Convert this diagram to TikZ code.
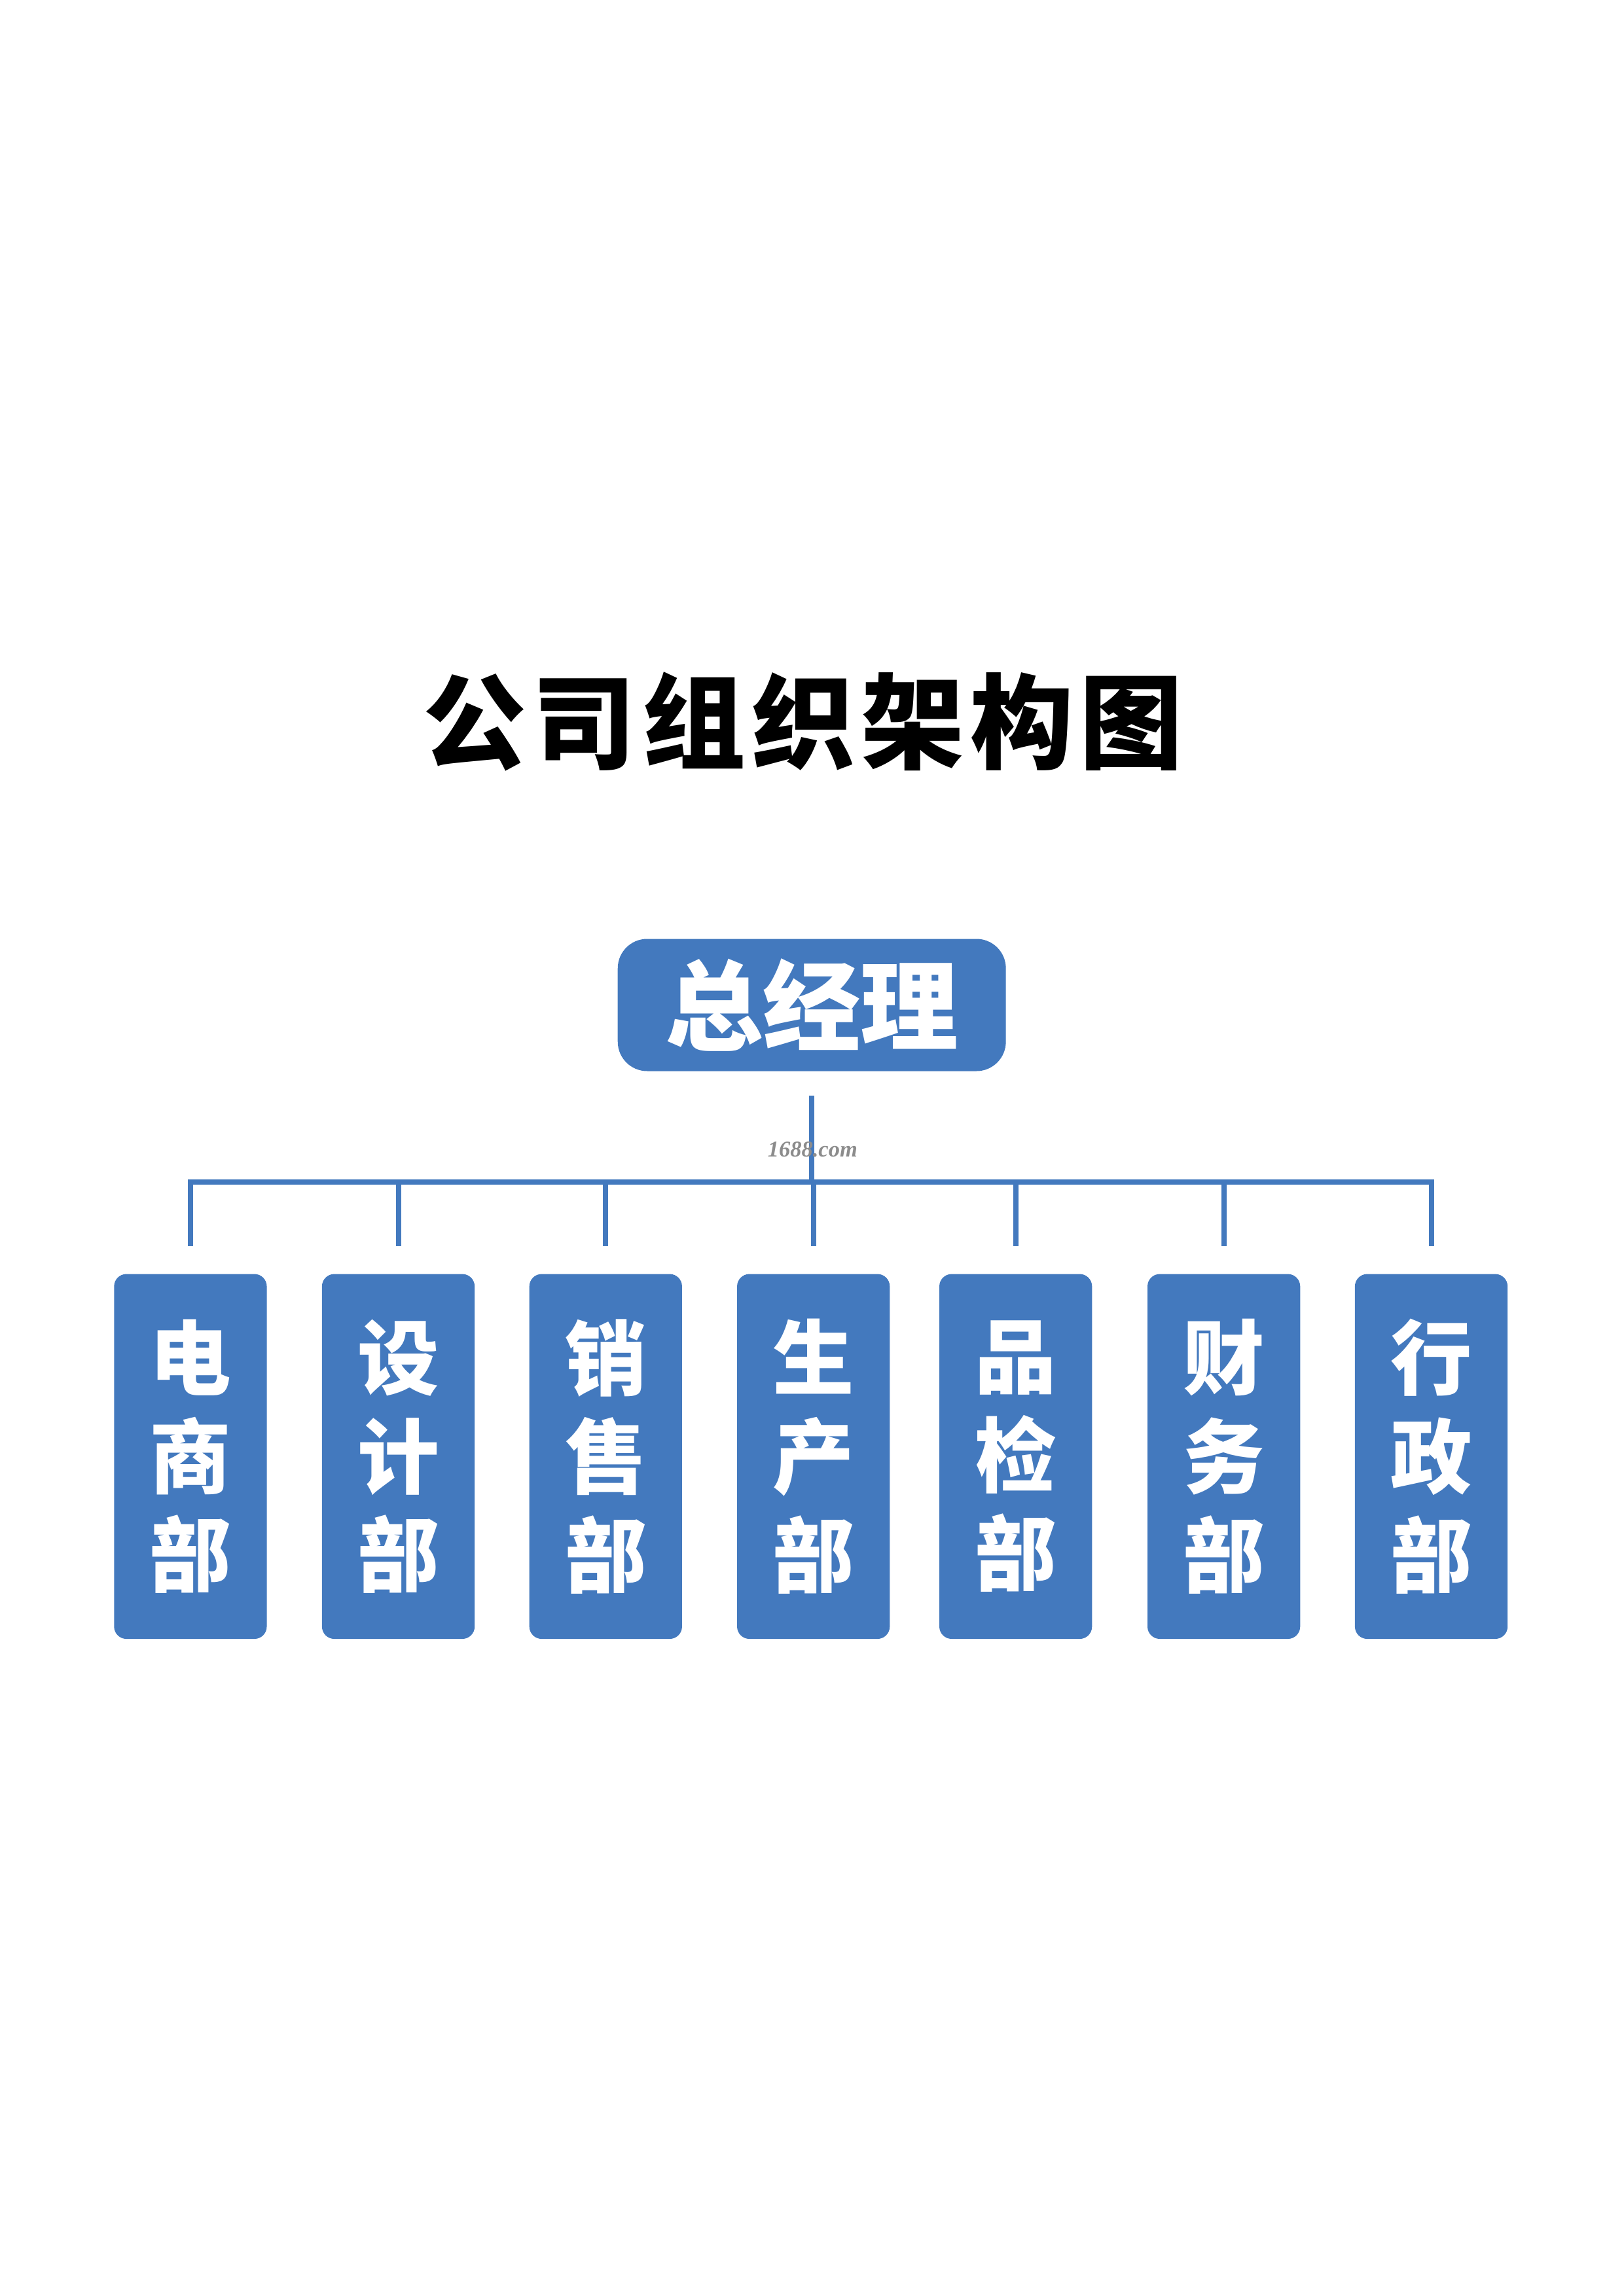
\documentclass[tikz,border=0pt]{standalone}
\usepackage{fontspec}
\newfontfamily\cjk{Noto Sans CJK SC}[BoldFont={Noto Sans CJK SC Black}]
\setmainfont{Liberation Serif}
\definecolor{orgblue}{RGB}{67,121,190}
\tikzset{
	link/.style={draw=orgblue, line width=1.93pt},
	gm/.style={rectangle, rounded corners=0.38cm, fill=orgblue, text=white, minimum width=5.02cm, minimum height=1.71cm, inner sep=0pt, font=\cjk\bfseries\fontsize{36}{36}\selectfont},
	dept/.style={rectangle, rounded corners=0.16cm, fill=orgblue, text=white, minimum width=1.975cm, minimum height=4.72cm, inner sep=0pt, align=center, font=\cjk\bfseries\fontsize{30}{36.3}\selectfont}
}
\begin{document}
\begin{tikzpicture}[line join=miter, line cap=butt]
				\useasboundingbox (0,0) rectangle (21,-29.7);
				\node (T) at (10.39,-9.33) {\cjk\bfseries\fontsize{38}{38}\selectfont\addfontfeatures{LetterSpace=6}公司组织架构图};
				\node [gm] (G) at (10.50,-13.0) {总经理};
				\foreach \x/\y/\a/\b/\c in {1/2.463/电/商/部,2/5.152/设/计/部,3/7.834/销/售/部,4/10.521/生/产/部,5/13.137/品/检/部,6/15.829/财/务/部,7/18.512/行/政/部}{
					\node [dept] (D\x) at (\y,-18.84) {\a\\\b\\\c};
					\path (D\x.north) ++(0,1.18) coordinate (H\x);
				}
				\path (G.south |- H4) coordinate (H);
				\draw [link, shorten <=0.31cm] (G.south)--(H);
				\draw [link, line cap=rect] (H1)--(H7);
				\foreach \x in {1,...,7}{
					\draw [link, shorten >=0.35cm] (H\x)--(D\x.north);
				}
				\node [text=black!45, font=\itshape\bfseries\fontsize{8.3}{8.3}\selectfont] (W) at (10.51,-14.87) {1688.com};
			\end{tikzpicture}
\end{document}
